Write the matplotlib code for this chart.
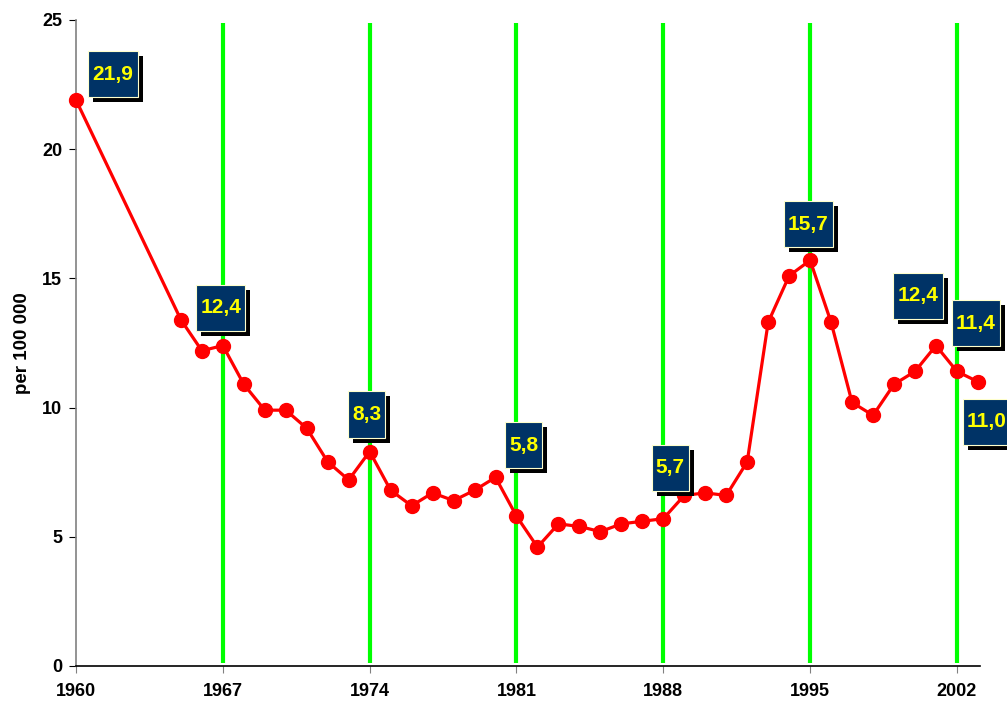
import matplotlib
matplotlib.use("Agg")
import matplotlib.pyplot as plt
import matplotlib.patheffects as pe
from matplotlib.path import Path

plt.rcParams['font.family'] = ['Liberation Sans', 'DejaVu Sans']

# Datos
years = [1960, 1965, 1966, 1967, 1968, 1969, 1970, 1971, 1972, 1973, 1974,
         1975, 1976, 1977, 1978, 1979, 1980, 1981, 1982, 1983, 1984, 1985,
         1986, 1987, 1988, 1989, 1990, 1991, 1992, 1993, 1994, 1995, 1996,
         1997, 1998, 1999, 2000, 2001, 2002, 2003]
values = [21.9, 13.4, 12.2, 12.4, 10.9, 9.9, 9.9, 9.2, 7.9, 7.2, 8.3,
          6.8, 6.2, 6.7, 6.4, 6.8, 7.3, 5.8, 4.6, 5.5, 5.4, 5.2,
          5.5, 5.6, 5.7, 6.6, 6.7, 6.6, 7.9, 13.3, 15.1, 15.7, 13.3,
          10.2, 9.7, 10.9, 11.4, 12.4, 11.4, 11.0]

marker_years = [1967, 1974, 1981, 1988, 1995, 2002]
tick_years = [1960, 1967, 1974, 1981, 1988, 1995, 2002]

label_years = [1960, 1967, 1974, 1981, 1988, 1995, 2001, 2002, 2003]
# desplazamiento de cada etiqueta (pixeles)
label_offsets = [(37, 26), (-2, 38), (-3, 37), (7, 71), (7, 51),
                 (-2, 36), (-18, 50), (19, 48), (9, -40)]


def caja(x0, y0, width, height, mutation_size):
    px = 0.2 * mutation_size
    py = 0.65 * mutation_size
    x0, y0 = x0 - px, y0 - py
    x1, y1 = x0 + width + 2 * px, y0 + height + 2 * py
    return Path([(x0, y0), (x1, y0), (x1, y1), (x0, y1), (x0, y0)], closed=True)


fig = plt.figure(figsize=(10.07, 7.04), dpi=100)
ax = fig.add_axes([0.0755, 0.054, 0.8977, 0.9176])

ax.vlines(marker_years, 0.1, 24.9, color='#00ff00', linewidth=3, zorder=1)
ax.plot(years, values, color='#ff0000', linewidth=2.3, marker='o',
        markersize=10, clip_on=False, zorder=3)

for yr, (dx, dy) in zip(label_years, label_offsets):
    v = values[years.index(yr)]
    t = ax.annotate(f"{v:.1f}".replace('.', ','), xy=(yr, v),
                    xytext=(dx, dy), textcoords='offset pixels',
                    ha='center', va='center', fontsize=15, fontweight='bold',
                    color='#ffff00', zorder=5, annotation_clip=False,
                    bbox=dict(boxstyle=caja, facecolor='#003366',
                              edgecolor='#ffffcc', linewidth=0.8))
    t.get_bbox_patch().set_path_effects([
        pe.SimplePatchShadow(offset=(3.6, -3.6), shadow_rgbFace='black', alpha=1),
        pe.Normal()])

ax.set_xlim(1960, 2003.1)
ax.set_ylim(0, 25)
ax.set_yticks([0, 5, 10, 15, 20, 25])
ax.set_xticks(tick_years)
ax.tick_params(axis='both', direction='out', length=5, labelsize=13)
ax.tick_params(axis='x', pad=7, color='#808080')
ax.tick_params(axis='y', pad=5, color='black')
for lbl in ax.get_xticklabels() + ax.get_yticklabels():
    lbl.set_fontweight('bold')

ax.set_ylabel('per 100 000', fontsize=13.5, fontweight='bold', labelpad=8)

ax.spines['top'].set_visible(False)
ax.spines['right'].set_visible(False)
ax.spines['left'].set_color('#808080')
ax.spines['left'].set_linewidth(1.2)
ax.spines['bottom'].set_color('black')
ax.spines['bottom'].set_linewidth(1.2)

fig.savefig('out.png', dpi=100)
